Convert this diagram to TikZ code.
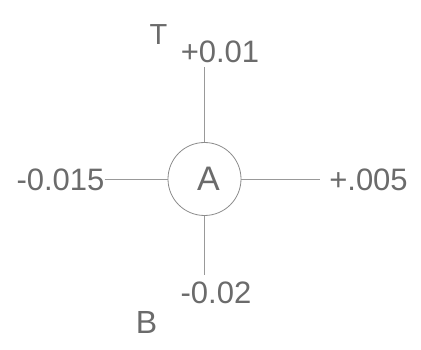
\documentclass[tikz,border=0pt]{standalone}
\usepackage{fontspec}
\setmainfont{Liberation Sans}
\begin{document}
\begin{tikzpicture}[x=1pt,y=-1pt,
  lbl/.style={inner sep=0pt, text=black!58, font=\fontsize{31}{36}\selectfont},
  wire/.style={draw=black!40, line width=0.8pt},
  hub/.style={circle, draw=black!45, line width=0.8pt, minimum size=73pt, inner sep=0pt,
              text=black!58, font=\fontsize{34}{38}\selectfont}]
  \useasboundingbox[fill=white] (0,0) rectangle (421,350);

  % central element (letter sits a little right of centre)
  \node[hub] (A) at (204.5,179) {\hspace*{8pt}A};

  % values on the four arms
  \node[lbl] (top)   at (220,51.5)  {+0.01};
  \node[lbl] (bot)   at (216,292.5) {-0.02};
  \node[lbl] (left)  at (60.5,180)  {-0.015};
  \node[lbl] (right) at (368.5,180) {+.005};

  % side letters
  \node[lbl, font=\fontsize{29}{34}\selectfont] (T) at (158.5,34.5) {T};
  \node[lbl, font=\fontsize{32}{38}\selectfont] (B) at (146.5,322.5) {B};

  % free ends of the arms
  \coordinate (topEnd) at (204.5,67);
  \coordinate (botEnd) at (204.5,275);
  \coordinate (rightEnd) at (320,179);

  % arms
  \draw[wire] (topEnd) -- (A.north);
  \draw[wire] (A.south) -- (botEnd);
  \draw[wire] (left.east |- A.west) -- (A.west);
  \draw[wire] (A.east) -- (rightEnd);
\end{tikzpicture}
\end{document}
